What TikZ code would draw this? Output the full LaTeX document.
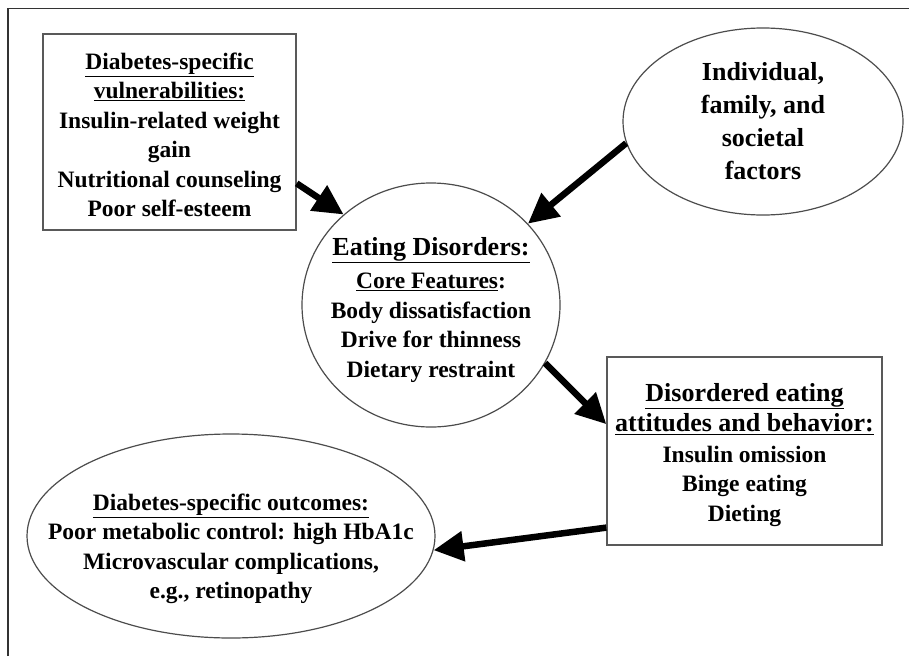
\documentclass[tikz,border=0pt]{standalone}
\usepackage{fontspec}
\setmainfont{Liberation Serif}
\usetikzlibrary{arrows.meta,shapes.geometric}

\begin{document}
\begin{tikzpicture}[x=1pt,y=-1pt,
        txt/.style={align=center,inner sep=0pt,font=\bfseries\fontsize{23.5}{29.5}\selectfont},
        bigtxt/.style={txt,font=\bfseries\fontsize{26}{33}\selectfont},
        box/.style={draw=black!65,line width=1.4pt,inner sep=0pt},
        blob/.style={draw=black!70,ellipse,line width=1.2pt,inner sep=0pt},
        fat/.style={line width=6.5pt,-{Triangle[length=30pt,width=29pt]}}]
    \useasboundingbox (0,0) rectangle (909,656);
    \draw[black!80,line width=1.3pt] (8,656) -- (8,8.5) -- (909,8.5);

    % the four causes and results
    \node[box,minimum width=253pt,minimum height=196pt] (vuln) at (169.5,132) {};
    \node[txt] (vulntxt) at (169.5,135)
        {\underline{Diabetes-specific}\\ \underline{vulnerabilities:}\\ Insulin-related weight\\ gain\\ Nutritional counseling\\ Poor self-esteem};
    \node[blob,bigtxt,minimum width=280pt,minimum height=187pt] (indiv) at (763,121.5)
        {Individual,\\ family, and\\ societal\\ factors};
    \node[blob,minimum width=258pt,minimum height=244pt] (core) at (431,305) {};
    \node[txt] (coretxt) at (431,310)
        {{\fontsize{26}{29}\selectfont\underline{Eating Disorders:}}\\[4pt] \underline{Core Features}:\\ Body dissatisfaction\\ Drive for thinness\\ Dietary restraint};
    \node[box,minimum width=275pt,minimum height=188pt] (behav) at (744.5,451) {};
    \node[txt] (behavtxt) at (744.5,455)
        {{\fontsize{26}{29}\selectfont\underline{Disordered eating}}\\[1pt] {\fontsize{26}{29}\selectfont\underline{attitudes and behavior:}}\\[1pt] Insulin omission\\ Binge eating\\ Dieting};
    \node[blob,minimum width=408pt,minimum height=204pt] (outc) at (231,536) {};
    \node[txt] (outctxt) at (231,549)
        {\underline{Diabetes-specific outcomes:}\\ Poor metabolic control: high HbA1c\\ Microvascular complications,\\ e.g., retinopathy};

    % arrows
    \draw[fat] (vuln.-22) -- (core.134);
    \draw[fat] (indiv.189.5) -- (core.40);
    \draw[fat] (core.-27.8) -- (behav.169.3);
    \draw[fat] (behav.209.2) -- (outc.-4.2);
\end{tikzpicture}
\end{document}
